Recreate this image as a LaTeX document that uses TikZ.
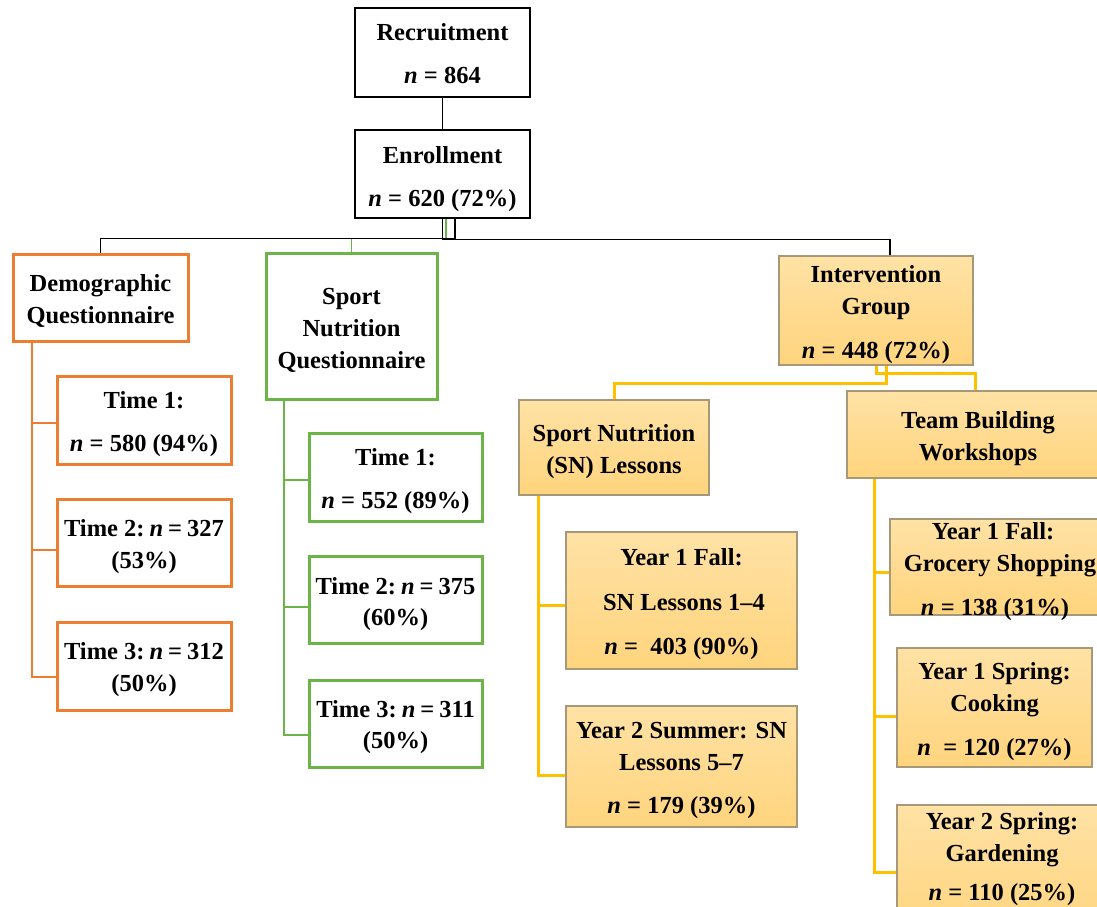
\documentclass[tikz,border=0pt]{standalone}
\usepackage{fontspec}
\setmainfont{Liberation Serif}
\usetikzlibrary{fit}
\definecolor{orgc}{RGB}{237,125,49}
\definecolor{grnc}{RGB}{106,180,72}
\definecolor{yelc}{RGB}{255,192,0}
\definecolor{goldtop}{RGB}{255,226,165}
\definecolor{goldbot}{RGB}{255,212,125}
\definecolor{goldedge}{RGB}{168,152,122}
\newcommand{\tsp}{\hspace{5pt}}
\tikzset{
  box/.style={draw, inner sep=0pt, rectangle},
  kbox/.style={box, draw=black, line width=2.8pt, fill=white},
  obox/.style={box, draw=orgc, line width=3pt, fill=white},
  gbox/.style={box, draw=grnc, line width=3pt, fill=white},
  ybox/.style={box, draw=goldedge, line width=1.5pt, top color=goldtop, bottom color=goldbot},
  txt/.style={font=\fontsize{24.5}{29}\selectfont\bfseries, anchor=mid, inner sep=0pt, yshift=-6pt},
  kline/.style={draw=black, line width=1.3pt},
  oline/.style={draw=orgc, line width=1.3pt},
  gline/.style={draw=grnc, line width=1.3pt},
  yline/.style={draw=yelc, line width=3pt},
}
\begin{document}
\begin{tikzpicture}[x=1pt,y=-1pt]
\clip (0,0) rectangle (1097,906);
\fill[white] (0,0) rectangle (1097,906);

% ---------- boxes ----------
\node[kbox, fit={(355,8)(530,97)}] (rec) {};
\node[kbox, fit={(355,130)(530,218)}] (enr) {};
\node[obox, fit={(13,254)(188,341)}] (demo) {};
\node[obox, fit={(57,376)(231,464)}] (d1) {};
\node[obox, fit={(57,499)(231,586)}] (d2) {};
\node[obox, fit={(57,622)(231,710)}] (d3) {};
\node[gbox, fit={(266,253)(437,399)}] (snq) {};
\node[gbox, fit={(309,433)(482,521)}] (s1) {};
\node[gbox, fit={(309,556)(482,643)}] (s2) {};
\node[gbox, fit={(309,680)(482,767)}] (s3) {};
\node[ybox, fit={(779,256)(973,365)}] (ig) {};
\node[ybox, fit={(519,400)(709,495)}] (snl) {};
\node[ybox, fit={(566,532)(797,669)}] (l1) {};
\node[ybox, fit={(566,706)(797,827)}] (l2) {};
\node[ybox, fit={(847,391)(1109,478)}] (tb) {};
\node[ybox, fit={(890,519)(1110,615)}] (w1) {};
\node[ybox, fit={(897,648)(1092,767)}] (w2) {};
\node[ybox, fit={(897,805)(1108,940)}] (w3) {};

% ---------- connectors ----------
\draw[kline] (rec.south) -- (enr.north);
\draw[gline] ([xshift=3.5pt]enr.south) -- ++(0,19) -| (snq.north);
\draw[kline] ([xshift=12.5pt]enr.south) -- ++(0,19) -| (demo.north);
\draw[kline] (enr.south) -- ++(0,20) -| ([xshift=14pt]ig.north);

\draw[oline] ([xshift=-68.5pt]demo.south) |- ([yshift=-3pt]d1.west);
\draw[oline] ([xshift=-68.5pt]demo.south) |- ([yshift=-7.5pt]d2.west);
\draw[oline] ([xshift=-68.5pt]demo.south) |- ([yshift=-11pt]d3.west);

\draw[gline] ([xshift=-67.5pt]snq.south) |- ([yshift=-3pt]s1.west);
\draw[gline] ([xshift=-67.5pt]snq.south) |- ([yshift=-7.5pt]s2.west);
\draw[gline] ([xshift=-67.5pt]snq.south) |- ([yshift=-11.5pt]s3.west);

\draw[yline] ([xshift=10pt]ig.south) -- ++(0,18) -| (snl.north);
\draw[yline] (ig.south) -- ++(0,8) -| ([xshift=-3pt]tb.north);

\draw[yline] ([xshift=-76pt]snl.south) |- ([yshift=-4.5pt]l1.west);
\draw[yline] ([xshift=-76pt]snl.south) |- ([yshift=-8.5pt]l2.west);

\draw[yline] ([xshift=-104pt]tb.south) |- ([yshift=-5pt]w1.west);
\draw[yline] ([xshift=-104pt]tb.south) |- ([yshift=-8.5pt]w2.west);
\draw[yline] ([xshift=-104pt]tb.south) |- (w3.west);

% ---------- texts ----------
\node[txt] (rec1) at (442.5,32) {Recruitment};
\node[txt] (rec2) at (442.5,75) {\textit{n} = 864};
\node[txt] (enr1) at (442.5,155) {Enrollment};
\node[txt] (enr2) at (442.5,198) {\textit{n} = 620 (72\%)};

\node[txt] (demo1) at (100.5,283) {Demographic};
\node[txt] (demo2) at (100.5,315) {Questionnaire};
\node[txt] (d1a) at (144,400) {Time 1:};
\node[txt] (d1b) at (144,443) {\textit{n} = 580 (94\%)};
\node[txt] (d2a) at (144,528) {Time 2:\tsp\textit{n}\tsp=\tsp327};
\node[txt] (d2b) at (144,560) {(53\%)};
\node[txt] (d3a) at (144,651) {Time 3:\tsp\textit{n}\tsp=\tsp312};
\node[txt] (d3b) at (144,683) {(50\%)};

\node[txt] (snq1) at (351.5,296) {Sport};
\node[txt] (snq2) at (351.5,328) {Nutrition};
\node[txt] (snq3) at (351.5,360) {Questionnaire};
\node[txt] (s1a) at (395.5,457) {Time 1:};
\node[txt] (s1b) at (395.5,500) {\textit{n} = 552 (89\%)};
\node[txt] (s2a) at (395.5,586) {Time 2:\tsp\textit{n}\tsp=\tsp375};
\node[txt] (s2b) at (395.5,617) {(60\%)};
\node[txt] (s3a) at (395.5,709) {Time 3:\tsp\textit{n}\tsp=\tsp311};
\node[txt] (s3b) at (395.5,740) {(50\%)};

\node[txt] (ig1) at (876,274) {Intervention};
\node[txt] (ig2) at (876,306) {Group};
\node[txt] (ig3) at (876,350) {\textit{n} = 448 (72\%)};

\node[txt] (snl1) at (614,433) {Sport Nutrition};
\node[txt] (snl2) at (614,465) {(SN) Lessons};
\node[txt] (l1a) at (681.5,557) {Year 1 Fall:};
\node[txt] (l1b) at (684,602) {SN Lessons 1–4};
\node[txt] (l1c) at (681.5,646) {\textit{n} =\ \ 403 (90\%)};
\node[txt] (l2a) at (681.5,730) {Year 2 Summer: SN};
\node[txt] (l2b) at (681.5,762) {Lessons 5–7};
\node[txt] (l2c) at (681.5,805) {\textit{n} = 179 (39\%)};

\node[txt] (tb1) at (978,420) {Team Building};
\node[txt] (tb2) at (978,452) {Workshops};
\node[txt] (w1a) at (993,531) {Year 1 Fall:};
\node[txt] (w1b) at (1000,563) {Grocery Shopping};
\node[txt] (w1c) at (995,607) {\textit{n} = 138 (31\%)};
\node[txt] (w2a) at (994.5,671) {Year 1 Spring:};
\node[txt] (w2b) at (994.5,703) {Cooking};
\node[txt] (w2c) at (994.5,747) {\textit{n}\ \ = 120 (27\%)};
\node[txt] (w3a) at (1002,821) {Year 2 Spring:};
\node[txt] (w3b) at (1002,853) {Gardening};
\node[txt] (w3c) at (1002,892) {\textit{n} = 110 (25\%)};
\end{tikzpicture}
\end{document}
